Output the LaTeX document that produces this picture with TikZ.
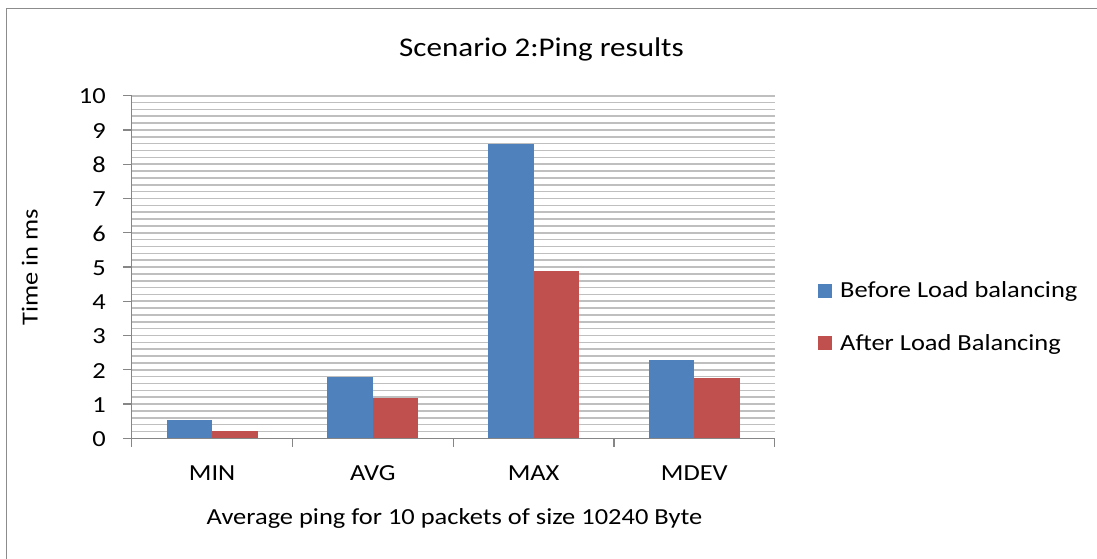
\documentclass[tikz,border=0pt]{standalone}
\usepackage{fontspec}
\setmainfont{Carlito}[FakeStretch=1.15]
\definecolor{barblue}{HTML}{4F81BD}
\definecolor{barred}{HTML}{C0504D}
\definecolor{gridc}{HTML}{BFBFBF}
\definecolor{axisc}{HTML}{868686}
\definecolor{framec}{HTML}{8C8C8C}
\begin{document}
\begin{tikzpicture}[x=1pt,y=-1pt,
  gridline/.style={draw=gridc, line width=1.6pt},
  axisline/.style={draw=axisc, line width=1.2pt},
  lbl/.style={font=\fontsize{23}{26}\selectfont, inner sep=0pt, text=black},
  bluebar/.style={fill=barblue},
  redbar/.style={fill=barred}]
\useasboundingbox (0,0) rectangle (1097,558);
\def\xo{131.7}
\def\xe{774.7}
\def\yo{438.3}
\def\u{34.26}
\def\cw{160.75}
% frame
\draw[draw=framec, line width=1.6pt] (6.5,8.5) rectangle (1120,580);
% grid
\foreach \i in {1,...,50}
  \draw[gridline] (\xo,{\yo-\i*0.2*\u}) -- (\xe,{\yo-\i*0.2*\u});
% bars
\foreach \c/\b/\r in {0/0.53/0.21, 1/1.8/1.19, 2/8.6/4.88, 3/2.29/1.77}{
  \fill[bluebar] ({\xo+\c*\cw+35},\yo) rectangle ({\xo+\c*\cw+80.5},{\yo-\b*\u});
  \fill[redbar] ({\xo+\c*\cw+80.5},\yo) rectangle ({\xo+\c*\cw+126},{\yo-\r*\u});
}
% axes
\draw[axisline] (\xo,{\yo-10*\u}) -- (\xo,\yo) -- (\xe,\yo);
\foreach \i in {0,...,10}{
  \draw[axisline] ({\xo-8.5},{\yo-\i*\u}) -- (\xo,{\yo-\i*\u});
  \node[lbl, anchor=east] (y\i) at (106,{\yo-\i*\u+0.8}) {\i};
}
\foreach \c in {0,...,4}
  \draw[axisline] ({\xo+\c*\cw},\yo) -- ({\xo+\c*\cw},446.5);
\foreach \c/\t in {0/MIN,1/AVG,2/MAX,3/MDEV}
  \node[lbl, anchor=base] (c\c) at ({\xo+(\c+0.5)*\cw},480.7) {\t};
% titles
\node[lbl, anchor=base, font=\fontsize{27}{30}\selectfont] (title) at (541.5,56) {Scenario 2:Ping results};
\node[lbl, anchor=base] (xtitle) at (454.5,524) {Average ping for 10 packets of size 10240 Byte};
\node[lbl, rotate=90, anchor=base] (ytitle) at (37.5,267) {Time in ms};
% legend
\fill[barblue] (818,283.5) rectangle (832,297.5);
\node[lbl, anchor=base west] (leg1) at (840,297.5) {Before Load balancing};
\fill[barred] (818,336) rectangle (832,350);
\node[lbl, anchor=base west] (leg2) at (840,350) {After Load Balancing};
\end{tikzpicture}
\end{document}
